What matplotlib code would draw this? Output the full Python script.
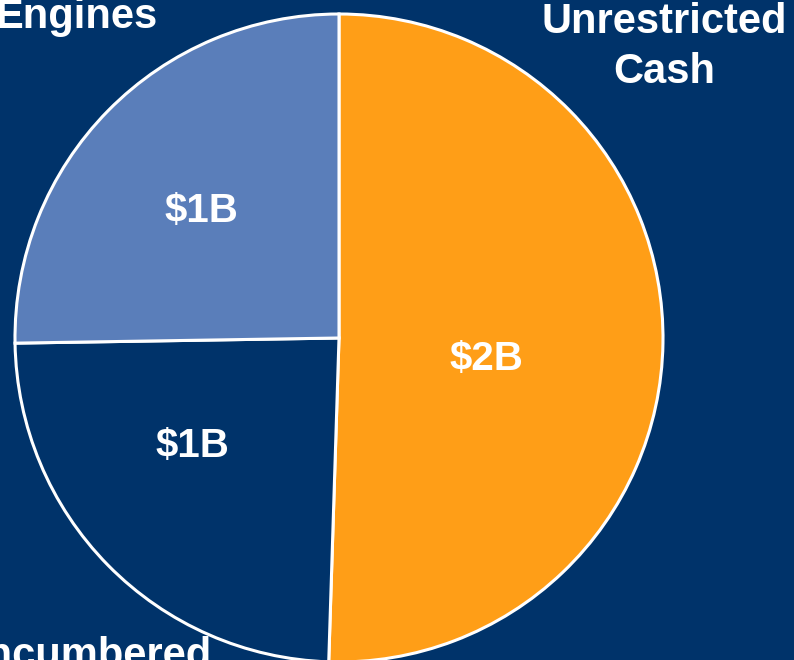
import matplotlib
matplotlib.use("Agg")
import matplotlib.pyplot as plt

plt.rcParams['font.family'] = ['Liberation Sans', 'DejaVu Sans']

categories = ["Unrestricted\nCash", "Unencumbered", "Engines"]
values = [2.0, 0.96, 1.0]        # in $B
value_labels = ["$2B", "$1B", "$1B"]
colors = ["#FF9E17", "#00336A", "#5A7EBA"]
bg = "#00336A"

fig = plt.figure(figsize=(7.94, 6.6), dpi=100, facecolor=bg)
ax = fig.add_axes([0, 0, 1, 1])

cx, cy, r = 339, 322, 324
wedges, _ = ax.pie(values, colors=colors, startangle=90, counterclock=False,
                   center=(cx, cy), radius=r, frame=True,
                   wedgeprops=dict(edgecolor="white", linewidth=2.2))
ax.set_facecolor(bg)
ax.set_xlim(0, 794)
ax.set_ylim(0, 660)
ax.axis("off")

# value labels inside slices (offset from centre, as fraction of radius)
offsets = [(0.454, -0.099), (-0.452, -0.367), (-0.426, 0.358)]
for lab, (ox, oy) in zip(value_labels, offsets):
    ax.text(cx + ox * r, cy + oy * r, lab, color="white", fontsize=29,
            fontweight="bold", ha="center", va="baseline")

# category labels around the pie (partly off the edge, as in the slide)
line1, line2 = categories[0].split("\n")
ax.text(664, 660 - 33, line1, color="white", fontsize=30,
        fontweight="bold", ha="center", va="baseline")
ax.text(664, 660 - 83, line2, color="white", fontsize=30,
        fontweight="bold", ha="center", va="baseline")
ax.text(212, 660 - 667, categories[1], color="white", fontsize=30,
        fontweight="bold", ha="right", va="baseline")
ax.text(158, 660 - 28, categories[2], color="white", fontsize=30,
        fontweight="bold", ha="right", va="baseline")

fig.savefig("out.png", dpi=100, facecolor=bg)
